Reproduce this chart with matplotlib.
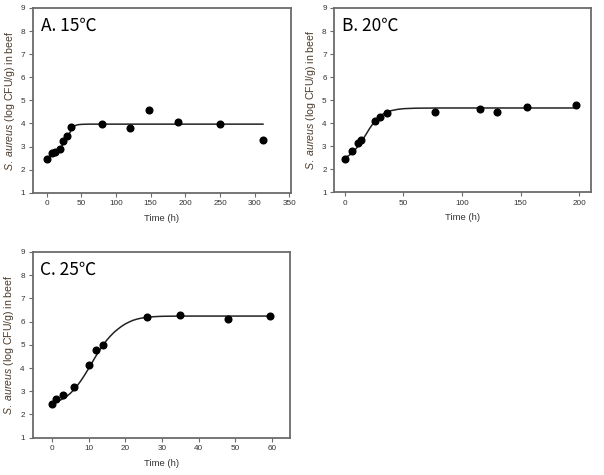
import matplotlib
matplotlib.use("Agg")
import matplotlib.pyplot as plt

plt.rcParams['font.family'] = ['Liberation Sans', 'DejaVu Sans']
plt.rcParams['mathtext.fontset'] = 'custom'
plt.rcParams['mathtext.it'] = 'Liberation Sans:italic'
plt.rcParams['mathtext.rm'] = 'Liberation Sans'

# ---- Panel A: 15 C ----
a_time = [0, 8, 12, 19, 24, 29, 35.5, 80, 120, 148, 190, 250, 312]
a_obs = [2.45, 2.72, 2.78, 2.88, 3.25, 3.44, 3.85, 3.99, 3.79, 4.6, 4.08, 3.99, 3.29]
a_fit_t = [0, 5, 10, 15, 20, 25, 30, 33, 36, 38, 40, 42, 45, 50, 60, 80, 312]
a_fit_y = [2.52, 2.60, 2.69, 2.81, 2.96, 3.16, 3.42, 3.59, 3.76, 3.84, 3.89, 3.92, 3.945, 3.96, 3.97, 3.97, 3.97]

# ---- Panel B: 20 C ----
b_time = [0, 6, 11.5, 13.5, 26, 30, 36, 77, 115, 130, 155, 197]
b_obs = [2.45, 2.80, 3.14, 3.26, 4.10, 4.27, 4.43, 4.48, 4.60, 4.49, 4.70, 4.80]
b_fit_t = [0, 3, 6, 9, 12, 15, 18, 21, 24, 27, 30, 33, 36, 40, 45, 50, 60, 80, 197]
b_fit_y = [2.52, 2.58, 2.70, 2.86, 3.05, 3.27, 3.51, 3.76, 3.98, 4.16, 4.30, 4.41, 4.48, 4.55, 4.60, 4.63, 4.65, 4.66, 4.66]

# ---- Panel C: 25 C ----
c_time = [0, 1, 3, 6, 10, 12, 14, 26, 35, 48, 59.5]
c_obs = [2.47, 2.68, 2.85, 3.19, 4.12, 4.78, 4.98, 6.20, 6.29, 6.10, 6.23]
c_fit_t = [0, 1, 2, 3, 4, 5, 6, 7, 8, 9, 10, 11, 12, 13, 14, 15, 16, 17, 18, 19, 20, 21, 22, 23, 24, 26, 28, 30, 35, 40, 59.5]
c_fit_y = [2.50, 2.54, 2.60, 2.68, 2.78, 2.91, 3.07, 3.26, 3.48, 3.72, 3.98, 4.25, 4.52, 4.77, 5.00, 5.21, 5.39, 5.55, 5.68, 5.80, 5.90, 5.98, 6.05, 6.10, 6.14, 6.19, 6.215, 6.23, 6.24, 6.24, 6.24]

panels = [
    dict(label="A. 15℃", t=a_time, y=a_obs, ft=a_fit_t, fy=a_fit_y,
         xlim=(-20, 352), xticks=[0, 50, 100, 150, 200, 250, 300, 350],
         rect=[33/604, 1-192.7/475, 257.7/604, 184.7/475]),
    dict(label="B. 20℃", t=b_time, y=b_obs, ft=b_fit_t, fy=b_fit_y,
         xlim=(-9, 210), xticks=[0, 50, 100, 150, 200],
         rect=[334.3/604, 1-192.3/475, 256.7/604, 184.3/475]),
    dict(label="C. 25℃", t=c_time, y=c_obs, ft=c_fit_t, fy=c_fit_y,
         xlim=(-5.3, 65), xticks=[0, 10, 20, 30, 40, 50, 60],
         rect=[32.5/604, 1-437.7/475, 257.8/604, 185.7/475]),
]

yticks = [1, 2, 3, 4, 5, 6, 7, 8, 9]

fig = plt.figure(figsize=(6.04, 4.75), dpi=100)
spine_col = '#6b6b6b'
text_col = '#333333'
for p in panels:
    ax = fig.add_axes(p['rect'])
    ax.plot(p['ft'], p['fy'], color='#222222', lw=1.1, zorder=2)
    ax.plot(p['t'], p['y'], 'o', color='black', ms=4.8, zorder=3)
    ax.set_xlim(*p['xlim'])
    ax.set_ylim(1, 9)
    ax.set_xticks(p['xticks'])
    ax.set_yticks(yticks)
    for s in ax.spines.values():
        s.set_color(spine_col)
        s.set_linewidth(1.3)
    ax.tick_params(direction='out', length=3, width=0.8, color=spine_col,
                   labelsize=5.9, labelcolor=text_col, pad=2.5)
    ax.set_xlabel('Time (h)', fontsize=6.8, color=text_col, labelpad=4.5)
    ax.set_ylabel(r'$\mathit{S.\ aureus}$ (log CFU/g) in beef', fontsize=7.6,
                  color='#4a3a2a', labelpad=3)
    ax.text(0.03, 0.955, p['label'], transform=ax.transAxes, fontsize=12.5,
            family=['Noto Sans CJK KR', 'DejaVu Sans'], color='black',
            ha='left', va='top')

fig.savefig('out.png', dpi=100)
